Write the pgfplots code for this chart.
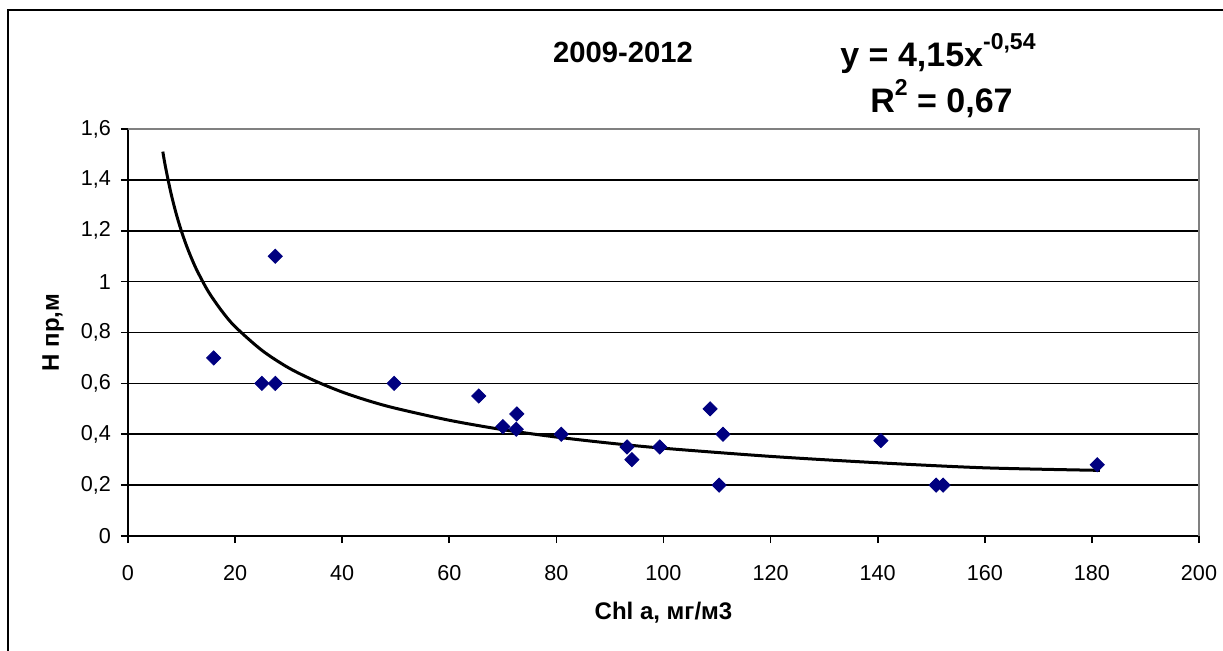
\documentclass[border=0pt]{standalone}
\usepackage{pgfplots}
\pgfplotsset{compat=1.18}
\usepackage{fontspec}
\setmainfont{Liberation Sans}

\definecolor{ptNavy}{HTML}{000080}
\definecolor{frameGray}{HTML}{808080}

\begin{document}
\begin{tikzpicture}
% 1 px of the reference = 0.5pt
\path[use as bounding box] (0,0) rectangle (611.5pt,325pt);
\draw[line width=1.2pt] (4pt,-2pt) -- (4pt,320pt) -- (613pt,320pt);
\begin{axis}[
  scale only axis, at={(64pt,57pt)}, anchor=south west,
  width=535.5pt, height=203.5pt,
  xmin=0, xmax=200, ymin=0, ymax=1.6,
  xtick={0,20,...,200}, ytick={0,0.2,...,1.6},
  axis lines=left, axis line style={-,black,line width=0.9pt},
  tick align=outside, major tick length=3.5pt,
  tick style={black,line width=0.8pt},
  ymajorgrids, grid style={black,line width=0.8pt},
  tick label style={font=\fontsize{10.8}{12}\selectfont},
  /pgf/number format/assume math mode=true,
  /pgf/number format/use comma,
  /pgf/number format/fixed,
  /pgf/number format/precision=1,
  xticklabel style={yshift=-7.5pt},
  yticklabel style={xshift=-1.5pt},
  xlabel={\bfseries Chl a, мг/м3},
  ylabel={\bfseries H пр,м},
  label style={font=\fontsize{12}{14}\selectfont},
  xlabel style={at={(axis description cs:0.5,0)},anchor=center,yshift=-38.5pt},
  ylabel style={at={(axis description cs:0,0.5)},anchor=center,yshift=37.5pt},
  clip=false, enlargelimits=false,
]
\draw[frameGray,line width=1pt] (rel axis cs:0,1) -- (rel axis cs:1,1) -- (rel axis cs:1,0);
% power trend line y = 4.15 x^-0.54
\addplot[black,line width=1.5pt,mark=none,smooth] coordinates {
  (6.5,1.511) (7,1.451) (8,1.350) (9,1.267) (10,1.197) (11,1.137) (12,1.085)
  (13,1.039) (15,0.961) (17.5,0.885) (20,0.823) (25,0.730) (30,0.661)
  (35,0.609) (40,0.566) (45,0.531) (50,0.502) (60,0.455) (70,0.418)
  (80,0.389) (90,0.365) (100,0.345) (120,0.313) (140,0.288) (160,0.268)
  (181.5,0.258)};
\addplot[only marks,mark=square*,mark size=2.5pt,
  mark options={rotate=45,fill=ptNavy,draw=ptNavy}] coordinates {
  (16,0.70) (25,0.60) (27.5,0.60) (27.5,1.10) (49.7,0.60) (65.5,0.55)
  (70,0.43) (72.6,0.48) (72.5,0.42) (80.9,0.40) (93.2,0.35) (94.1,0.30)
  (99.3,0.35) (108.7,0.50) (111.1,0.40) (110.4,0.20) (140.6,0.375)
  (150.9,0.20) (152.2,0.20) (181,0.28)};
\end{axis}
\node[font=\bfseries\fontsize{14.6}{16}\selectfont] at (311.5pt,299pt) {2009-2012};
\node[font=\bfseries\fontsize{17}{19}\selectfont,anchor=base west,inner sep=0pt]
  at (420pt,292pt) {y = 4,15x\raisebox{0.5em}{\fontsize{11.5}{13}\selectfont -0,54}};
\node[font=\bfseries\fontsize{17}{19}\selectfont,anchor=base west,inner sep=0pt]
  at (435pt,269pt) {R\raisebox{0.5em}{\fontsize{11.5}{13}\selectfont 2} = 0,67};
\end{tikzpicture}
\end{document}
